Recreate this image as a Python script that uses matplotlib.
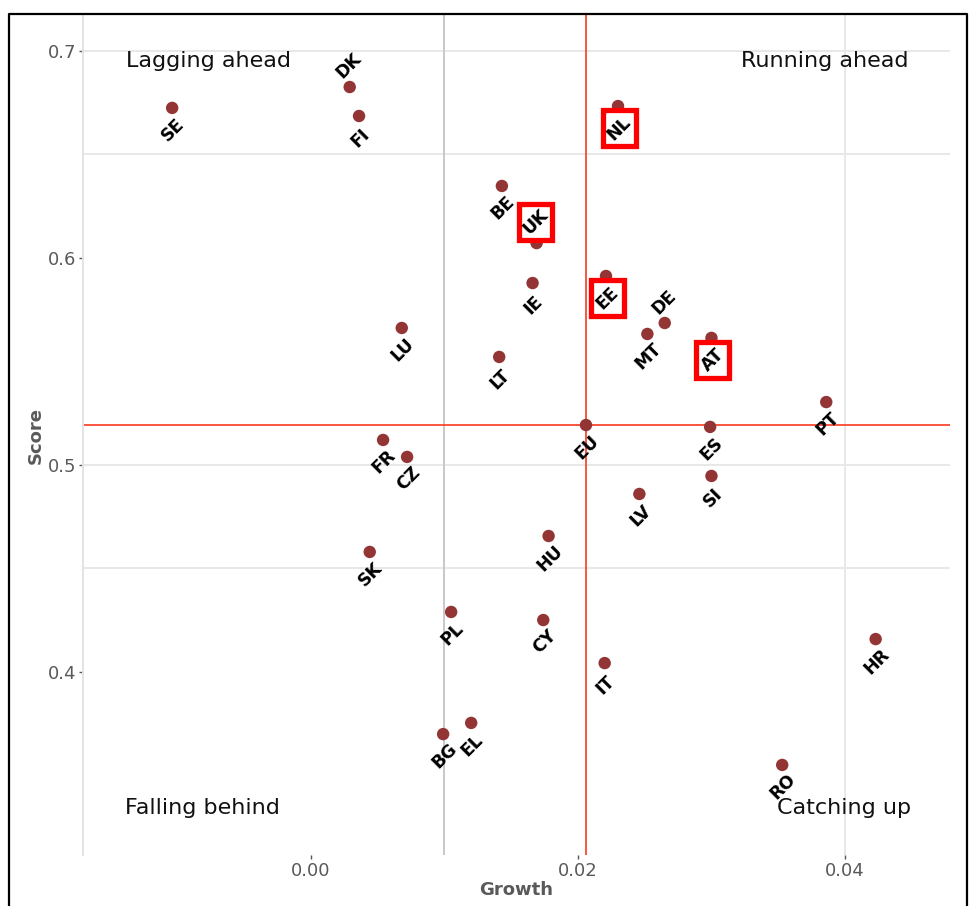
import matplotlib
matplotlib.use("Agg")
import matplotlib.pyplot as plt
from matplotlib.patches import Rectangle
from matplotlib.lines import Line2D
import matplotlib.transforms as mtransforms

# country codes with growth / score
countries = ["SE", "DK", "FI", "NL", "BE", "UK", "IE", "EE", "LU", "LT",
             "DE", "MT", "AT", "EU", "ES", "FR", "CZ", "SI", "LV", "HU",
             "SK", "PL", "BG", "EL", "CY", "IT", "RO", "HR", "PT"]
growth = [-0.0104, 0.0029, 0.0036, 0.0230, 0.0143, 0.0169, 0.0166, 0.0221, 0.0068, 0.0141,
          0.0265, 0.0252, 0.0300, 0.0206, 0.0299, 0.0054, 0.0072, 0.0300, 0.0246, 0.0178,
          0.0044, 0.0105, 0.0099, 0.0120, 0.0174, 0.0220, 0.0353, 0.0423, 0.0386]
score = [0.6725, 0.6826, 0.6686, 0.6734, 0.6348, 0.6072, 0.5879, 0.5913, 0.5662, 0.5522,
         0.5686, 0.5633, 0.5614, 0.5193, 0.5184, 0.5121, 0.5039, 0.4947, 0.4860, 0.4657,
         0.4580, 0.4290, 0.3700, 0.3754, 0.4251, 0.4043, 0.3551, 0.4159, 0.5304]

labels_above = ["DK", "UK", "DE"]
highlighted = ["NL", "UK", "EE", "AT"]

quadrants = ["Lagging ahead", "Running ahead", "Falling behind", "Catching up"]
quad_x = [-0.0077, 0.0385, -0.0081, 0.0399]
quad_y = [0.6952, 0.6952, 0.3343, 0.3343]

x_ticks = [0.00, 0.02, 0.04]
x_ticklabels = ["0.00", "0.02", "0.04"]
y_ticks = [0.4, 0.5, 0.6, 0.7]
y_ticklabels = ["0.4", "0.5", "0.6", "0.7"]

fig = plt.figure(figsize=(9.69, 9.06), dpi=100)
ax = fig.add_axes([83 / 969, 51 / 906, 867 / 969, 840 / 906])
ax.set_xlim(-0.01708, 0.04787)
ax.set_ylim(0.31159, 0.71739)

# sparse grid as seen in the picture
for gy in [0.7, 0.65, 0.5, 0.45]:
    ax.axhline(gy, color="#e8e8e8", lw=1.4, zorder=0)
ax.axvline(0.04, color="#e8e8e8", lw=1.4, zorder=0)
ax.axvline(0.01, color="#c8c8c8", lw=1.4, zorder=0)

eu = countries.index("EU")
ax.axvline(growth[eu], color="#fa3a1e", lw=1.2, zorder=1)
ax.axhline(score[eu], color="#fa3a1e", lw=1.2, zorder=1)

ax.scatter(growth, score, s=80, color="#943535", edgecolors="none", zorder=3)

px = 0.72  # points per pixel at 100 dpi
for name, gx, sy in zip(countries, growth, score):
    if name in labels_above:
        dx, dy = -1 * px, 21 * px
    else:
        dx, dy = 1 * px, -22 * px
    if name in highlighted:
        trans = mtransforms.Affine2D().scale(fig.dpi / 72) + \
            mtransforms.ScaledTranslation(gx, sy, ax.transData)
        w, h = 33 * px, 36 * px
        ax.add_patch(Rectangle((dx - w / 2, dy - h / 2), w, h, transform=trans,
                               facecolor="white", edgecolor="#ff0000", lw=3.8,
                               zorder=4, clip_on=False))
    ax.annotate(name, (gx, sy), xytext=(dx, dy), textcoords="offset points",
                rotation=45, rotation_mode="anchor", ha="center", va="center",
                fontsize=12.5, fontweight="bold", color="black", zorder=5)

for txt, qx, qy in zip(quadrants, quad_x, quad_y):
    ax.text(qx, qy, txt, fontsize=16, color="#111111", ha="center", va="center")

ax.set_xticks(x_ticks)
ax.set_xticklabels(x_ticklabels)
ax.set_yticks(y_ticks)
ax.set_yticklabels(y_ticklabels)
ax.tick_params(length=3, width=1, color="#555555", labelcolor="#5a5a5a",
               labelsize=13, pad=2)
ax.set_xlabel("Growth", fontsize=13, fontweight="bold", color="#595959", labelpad=1)
ax.set_ylabel("Score", fontsize=13, fontweight="bold", color="#595959", labelpad=2)

for side in ["top", "right", "bottom"]:
    ax.spines[side].set_visible(False)
ax.spines["left"].set_color("#e3e3e3")
ax.spines["left"].set_linewidth(1.4)

# black frame around the figure (open at the bottom)
fl, fr, ft = 8.5 / 969, 966.5 / 969, 1 - 14 / 906
fig.add_artist(Line2D([fl, fl, fr, fr], [0, ft, ft, 0], color="black", lw=1.6,
                      transform=fig.transFigure))

fig.savefig("out.png", dpi=100, facecolor="white")
